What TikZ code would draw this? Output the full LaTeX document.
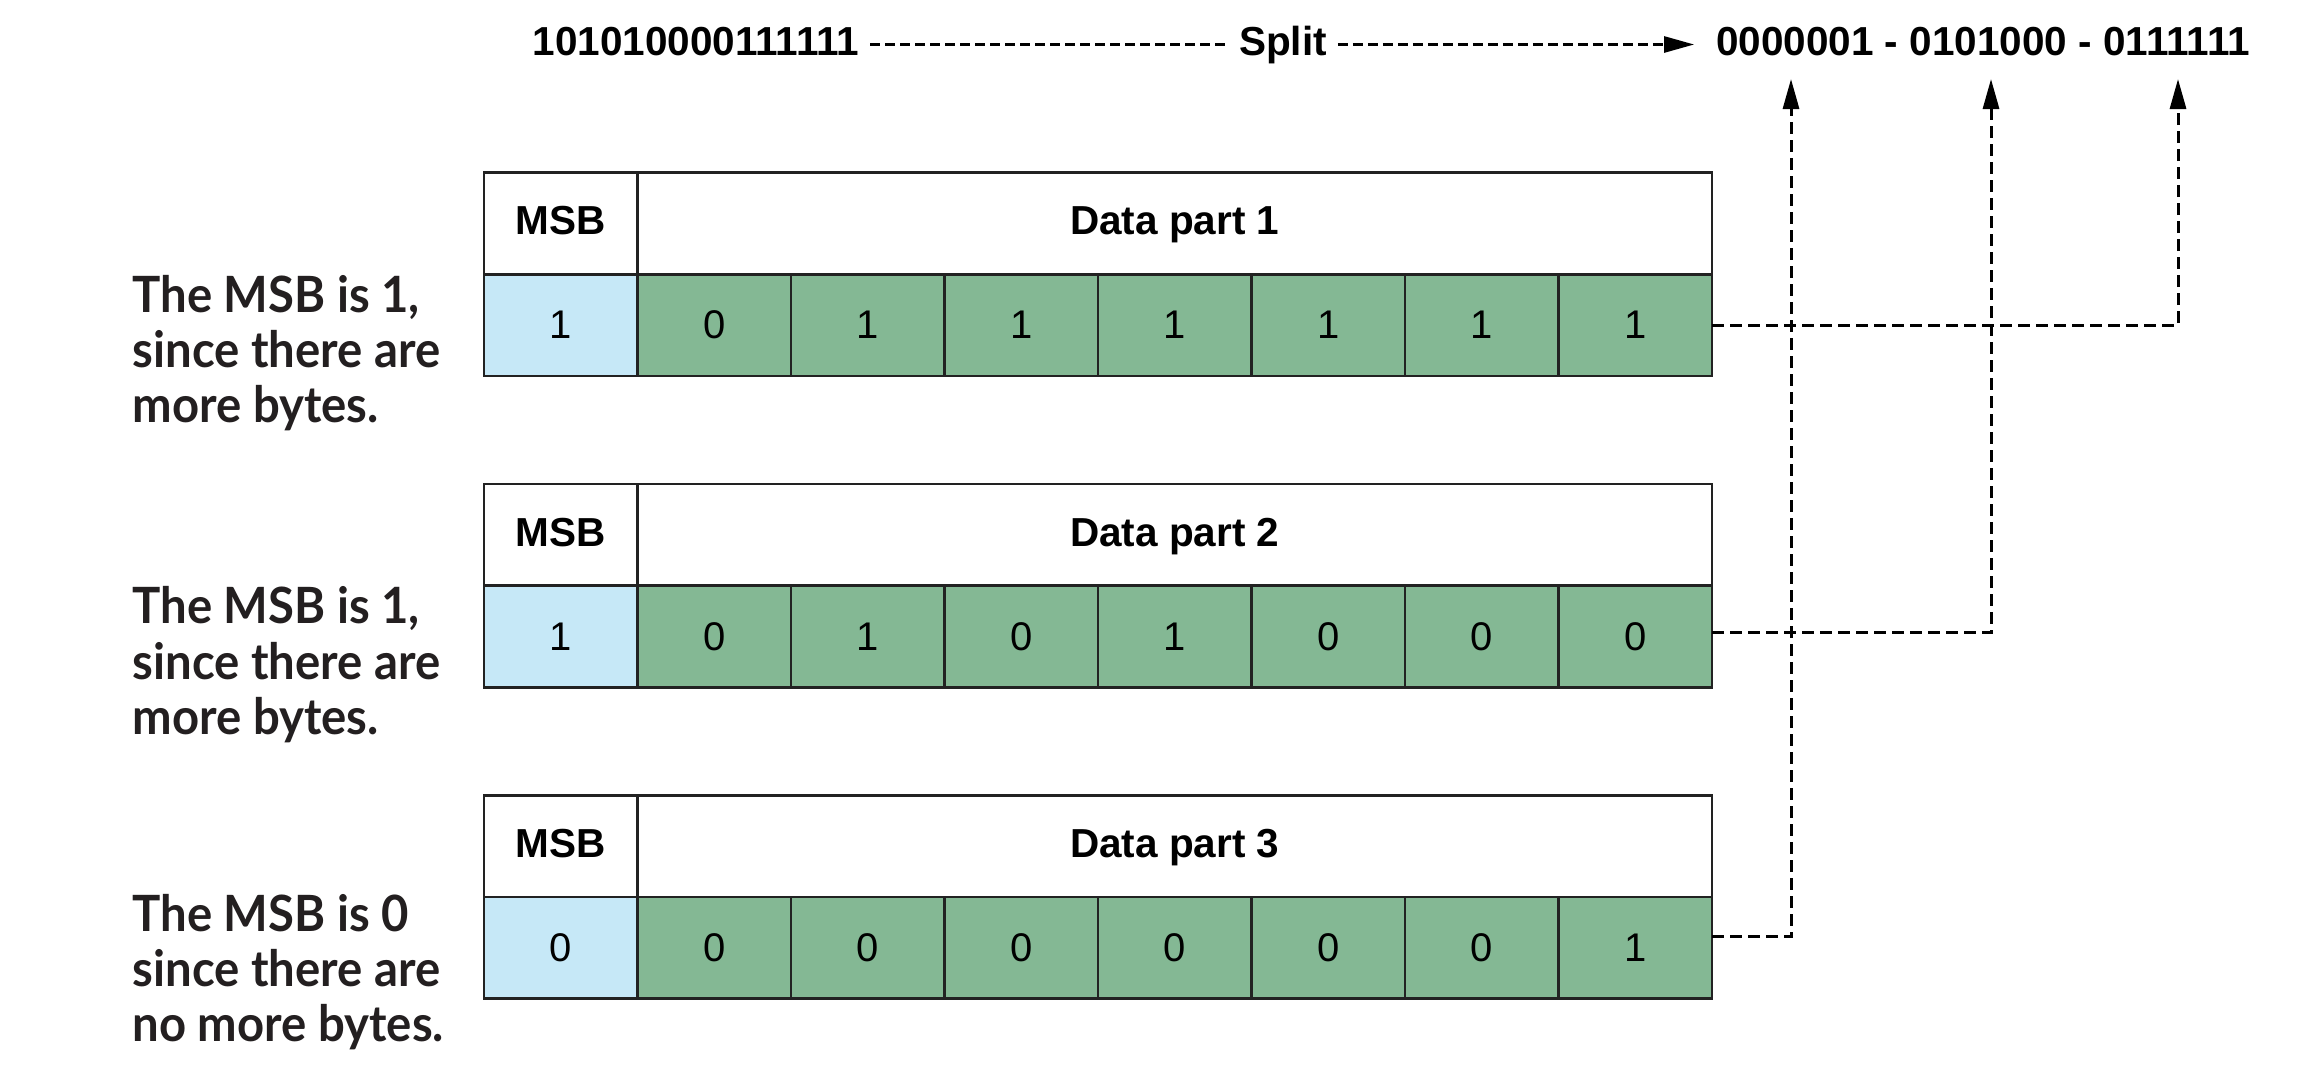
\documentclass[tikz,border=0pt]{standalone}
\usepackage{fontspec}
\setmainfont{Liberation Sans}
\newfontfamily\annfont{Lato}[FakeStretch=0.945]
\usetikzlibrary{arrows.meta}
\definecolor{msbblue}{HTML}{C6E8F7}
\definecolor{datagreen}{HTML}{84B894}
\definecolor{edgegray}{HTML}{222222}
\definecolor{anntext}{HTML}{231F20}
\newcommand\myannot[3]{\vtop{\baselineskip=55.3pt\hbox{#1}\hbox{#2}\hbox{#3}}}
\begin{document}
\begin{tikzpicture}[x=1pt,y=-1pt,
  cell/.style={draw=edgegray, line width=2.6pt, minimum width=153.5pt, minimum height=101.7pt,
    inner sep=0pt, outer sep=0pt, font=\fontsize{40}{48}\selectfont},
  msbcell/.style={cell, fill=msbblue},
  datcell/.style={cell, fill=datagreen},
  headcell/.style={cell, fill=white, text height=29pt, text depth=6pt, font=\fontsize{40.5}{48}\selectfont\bfseries},
  datahead/.style={headcell, minimum width=1074.5pt},
  toptext/.style={inner sep=0pt, outer sep=0pt, font=\fontsize{40.5}{48}\selectfont\bfseries},
  ann/.style={anchor=base west, inner sep=0pt, text=anntext, font=\annfont\bfseries\fontsize{50}{55.3}\selectfont},
  tiptri/.style={-{Triangle[length=30pt,width=16pt]}},
  topline/.style={tiptri, dash pattern=on 10pt off 5pt, line width=2.7pt},
  conn/.style={tiptri, dash pattern=on 12pt off 6pt, line width=3pt}
]
\useasboundingbox (0,0) rectangle (2308,1082);

% top line
\node[toptext, anchor=base] (src) at (696,55) {101010000111111};
\node[toptext, anchor=base] (split) at (1283,55) {Split};
\node[toptext, anchor=base] (res) at (1983,55) {0000001 - 0101000 - 0111111};
\coordinate (ly) at (0,44.5);
\draw[dash pattern=on 10pt off 5pt, line width=2.7pt, shorten <=11pt, shorten >=14pt]
  (src.east |- ly) -- (split.west |- ly);
\draw[topline, shorten <=11pt, shorten >=22pt] (split.east |- ly) -- (res.west |- ly);

% rows
\foreach \r/\top/\m/\vals in {1/172.5/1/{0,1,1,1,1,1,1}, 2/484/1/{0,1,0,1,0,0,0}, 3/795.3/0/{0,0,0,0,0,0,1}}{
  \node[headcell] (r\r-msbh) at (560.75, {\top+50.85}) {MSB};
  \node[datahead] (r\r-dh) at (1174.75, {\top+50.85}) {Data part \r};
  \node[msbcell] (r\r-msb) at (560.75, {\top+152.55}) {\m};
  \foreach \v [count=\i] in \vals {
    \node[datcell] (r\r-c\i) at ({637.5+153.5*(\i-0.5)}, {\top+152.55}) {\v};
  }
}

% annotations
\node[ann] (a1) at (132.5,312) {\myannot{The MSB is 1,}{since there are}{more bytes.}};
\node[ann] (a2) at (132.5,623.8) {\myannot{The MSB is 1,}{since there are}{more bytes.}};
\node[ann] (a3) at (132.5,931) {\myannot{The MSB is 0}{since there are}{no more bytes.}};

% connectors
\coordinate (t1) at (1791,79);
\coordinate (t2) at (1991,79);
\coordinate (t3) at (2178,79);
\draw[conn] (r1-c7.east) -| (t3);
\draw[conn] ([yshift=3.6pt]r2-c7.east) -| (t2);
\draw[conn] ([yshift=11pt]r3-c7.east) -| (t1);
\end{tikzpicture}
\end{document}
